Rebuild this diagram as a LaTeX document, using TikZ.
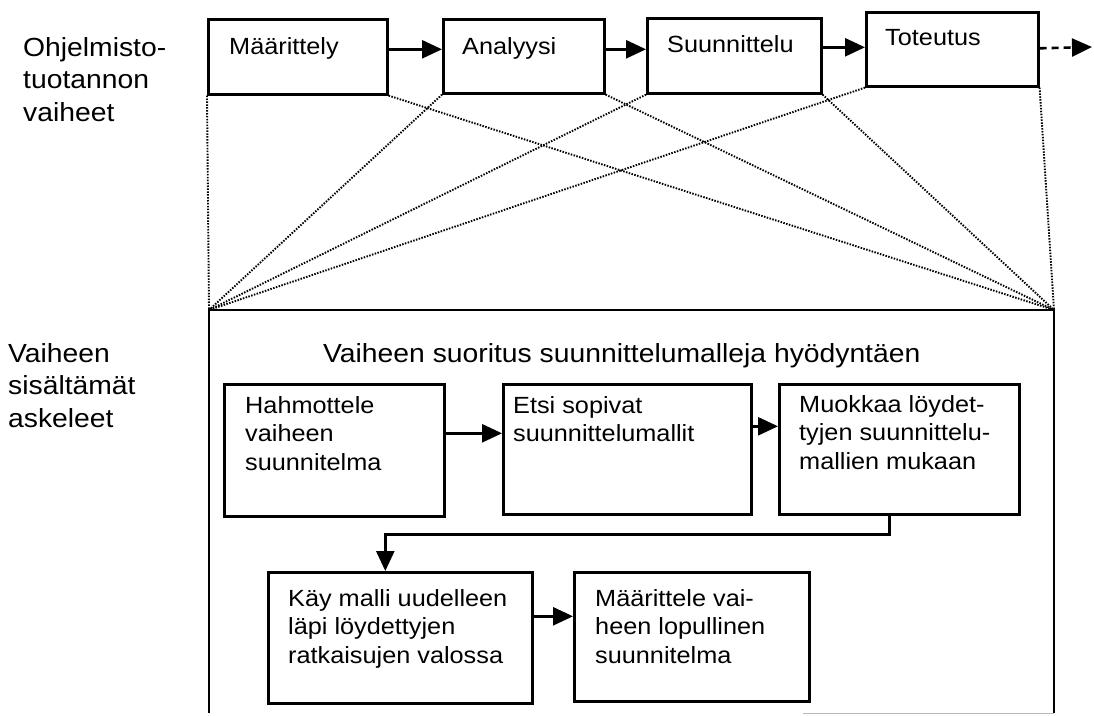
\documentclass[tikz,border=0pt]{standalone}
\usepackage{fontspec}
\setmainfont{Liberation Sans}[FakeStretch=1.08]
\usetikzlibrary{arrows.meta}
\begin{document}
\begin{tikzpicture}[x=1pt,y=-1pt,
  box/.style={draw, line width=2.6pt, anchor=north west, inner sep=0pt},
  % multi-line labels are placed by the baseline of their last line
  lbl/.style={anchor=base west, inner sep=0pt, align=left, font=\fontsize{23.4}{28.8}\selectfont},
  biglbl/.style={anchor=base west, inner sep=0pt, align=left, font=\fontsize{26.2}{32.5}\selectfont},
  flow/.style={line width=2.6pt, -{Triangle[length=20pt,width=18pt]}},
  fan/.style={line width=1.9pt, dash pattern=on 1.5pt off 1.4pt},
  frame/.style={line width=2.6pt},
]
\useasboundingbox (0,0) rectangle (1094,715);

% side captions
\node[biglbl] (capA) at (23,121) {Ohjelmisto-\\tuotannon\\vaiheet};
\node[biglbl] (capB) at (8,427) {Vaiheen\\sisältämät\\askeleet};

% software production phases
\node[box, minimum width=179pt, minimum height=75pt] (p1) at (207,18) {};
\node[box, minimum width=161pt, minimum height=74pt] (p2) at (442,18) {};
\node[box, minimum width=174pt, minimum height=75pt] (p3) at (646,17) {};
\node[box, minimum width=172pt, minimum height=74pt] (p4) at (865,11) {};
\node[lbl] (t1) at (229,54) {Määrittely};
\node[lbl] (t2) at (462,54) {Analyysi};
\node[lbl] (t3) at (667,52) {Suunnittelu};
\node[lbl] (t4) at (885,45) {Toteutus};
\coordinate (cont) at (1092,47);

\draw[flow] ([yshift=7.5pt]p1.east) -- ([yshift=7.5pt]p1.east -| p2.west);
\draw[flow] ([yshift=7pt]p2.east) -- ([yshift=7pt]p2.east -| p3.west);
\draw[flow] ([yshift=8.5pt]p3.east) -- ([yshift=8.5pt]p3.east -| p4.west);
\draw[flow, dash pattern=on 7pt off 5pt] ([yshift=1pt]p4.east) -- (cont);

% the expanded phase
\node[anchor=north west, inner sep=0pt, outer sep=0pt,
      minimum width=845pt, minimum height=403pt] (phase) at (209,310) {};
\draw[frame] (phase.south west) -- (phase.north west) -- (phase.north east) -- (phase.south east);
\draw[gray!55, line width=1pt] ([xshift=-251pt]phase.south east) -- (phase.south east);
\node[biglbl] (title) at (323,362) {Vaiheen suoritus suunnittelumalleja hyödyntäen};

% fan of dotted lines from each phase to the expanded view
\foreach \p in {p1,p2,p3,p4}{
  \draw[fan] (\p.south west) -- (phase.north west);
  \draw[fan] (\p.south east) -- (phase.north east);
}

% steps of the phase
\node[box, minimum width=220pt, minimum height=132pt] (s1) at (223,383) {};
\node[box, minimum width=248pt, minimum height=130pt] (s2) at (502,383) {};
\node[box, minimum width=240pt, minimum height=130pt] (s3) at (778,383) {};
\node[box, minimum width=264pt, minimum height=131pt] (s4) at (267,571) {};
\node[box, minimum width=235pt, minimum height=129pt] (s5) at (573,571) {};
\node[lbl] (u1) at (245,470.6) {Hahmottele\\vaiheen\\suunnitelma};
\node[lbl] (u2) at (513,441.8) {Etsi sopivat\\suunnittelumallit};
\node[lbl] (u3) at (799,469.6) {Muokkaa löydet-\\tyjen suunnittelu-\\mallien mukaan};
\node[lbl] (u4) at (288,663.6) {Käy malli uudelleen\\läpi löydettyjen\\ratkaisujen valossa};
\node[lbl] (u5) at (595,663.6) {Määrittele vai-\\heen lopullinen\\suunnitelma};

\draw[flow] ([yshift=17pt]s1.east) -- ([yshift=17pt]s1.east -| s2.west);
\draw[flow] ([yshift=23pt]s2.east) -- ([yshift=23pt]s2.east -| s3.west);
\draw[flow] ([xshift=-10pt]s3.south) -- ++(0,19) -| ([xshift=-15pt]s4.north);
\draw[flow] ([yshift=21.5pt]s4.east) -- ([yshift=21.5pt]s4.east -| s5.west);
\end{tikzpicture}
\end{document}
